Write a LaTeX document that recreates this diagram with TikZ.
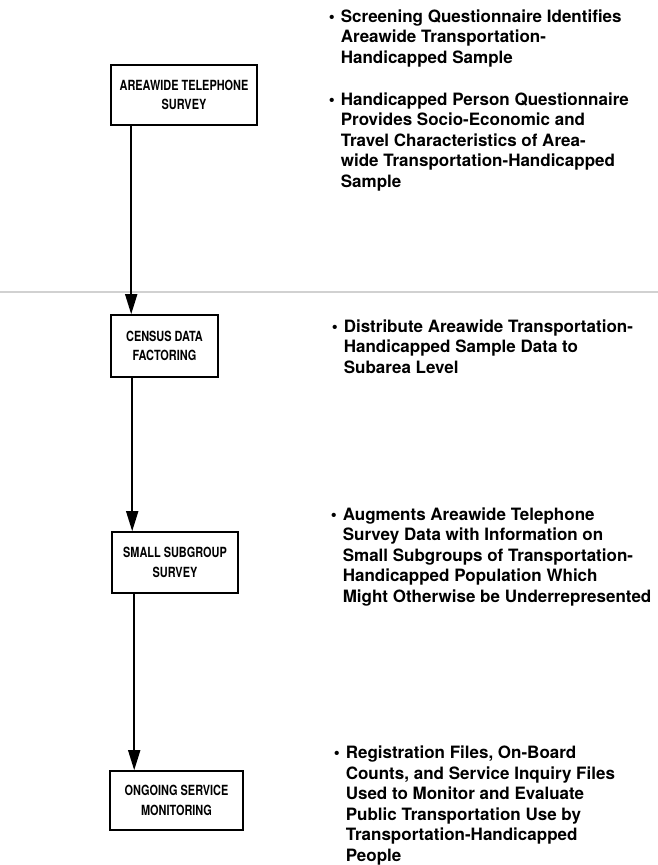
\documentclass[tikz,border=0pt]{standalone}
\usepackage{fontspec}
\setmainfont{TeX Gyre Heros}
\newfontfamily\boxfont[FakeStretch=0.78]{TeX Gyre Heros}
\usetikzlibrary{arrows.meta,positioning}

\newcommand{\blt}{\llap{\textbullet\hspace{6bp}}}

\begin{document}
\begin{tikzpicture}[x=1bp, y=-1bp, line width=1.6bp]
			\tikzstyle{myedgestyle} = [-{Triangle[length=20bp,width=12bp]}]
			\tikzstyle{mybox} = [draw, align=center, inner sep=0pt, font=\boxfont\fontsize{14bp}{19.5bp}\selectfont\bfseries]
			\tikzstyle{mytext} = [anchor=base west, align=left, inner sep=0pt, font=\fontsize{17bp}{20.5bp}\selectfont\bfseries]
			
			\useasboundingbox (0,0) rectangle (658,865);
			\draw [black!18, line width=2bp] (0,292) -- (658,292);
			
			% boxes on the left, bullet texts (last line baseline) on the right
			\node [mybox, minimum width=146bp, minimum height=60bp] (A1) at (184,95) {AREAWIDE TELEPHONE\\SURVEY};
			\node [mytext] (A2) at (340,63) {\blt Screening Questionnaire Identifies\\Areawide Transportation-\\Handicapped Sample};
			\node [mytext] (A3) at (340,187) {\blt Handicapped Person Questionnaire\\Provides Socio-Economic and\\Travel Characteristics of Area-\\wide Transportation-Handicapped\\Sample};
			
			\node [mybox, minimum width=107bp, minimum height=62bp] (B1) at (164.5,346) {CENSUS DATA\\FACTORING};
			\node [mytext] (B2) at (343,373) {\blt Distribute Areawide Transportation-\\Handicapped Sample Data to\\Subarea Level};
			
			\node [mybox, minimum width=126bp, minimum height=61bp] (C1) at (175,562.5) {SMALL SUBGROUP\\SURVEY};
			\node [mytext] (C2) at (342,602) {\blt Augments Areawide Telephone\\Survey Data with Information on\\Small Subgroups of Transportation-\\Handicapped Population Which\\Might Otherwise be Underrepresented};
			
			\node [mybox, minimum width=133bp, minimum height=59bp] (D1) at (176.5,800.5) {ONGOING SERVICE\\MONITORING};
			\node [mytext] (D2) at (345,861) {\blt Registration Files, On-Board\\Counts, and Service Inquiry Files\\Used to Monitor and Evaluate\\Public Transportation Use by\\Transportation-Handicapped\\People};
	
			\draw [myedgestyle] ([xshift=21bp]A1.south west) -- ([xshift=21bp]A1.south west |- B1.north);
			\draw [myedgestyle] ([xshift=22bp]B1.south west) -- ([xshift=22bp]B1.south west |- C1.north);
			\draw [myedgestyle] ([xshift=23bp]C1.south west) -- ([xshift=23bp]C1.south west |- D1.north);
			
			
			\end{tikzpicture}
\end{document}
